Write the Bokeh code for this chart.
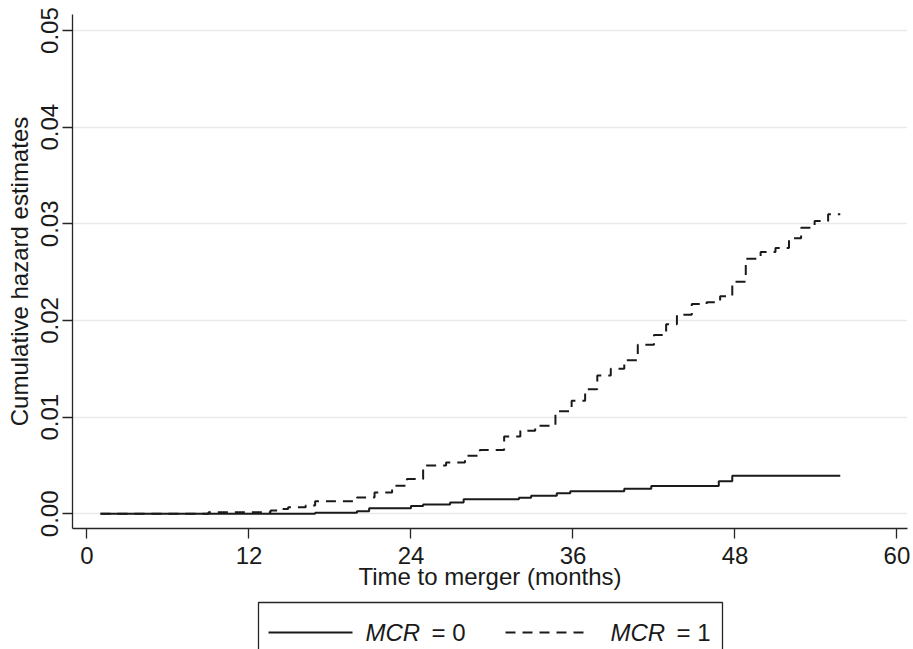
from bokeh.plotting import figure
from bokeh.models import FixedTicker, PrintfTickFormatter, Range1d
from bokeh.core.properties import value
from bokeh.layouts import column
from bokeh.embed import file_html
from bokeh.resources import INLINE

# --- data (months, cumulative hazard) ---
mcr0_time = [1, 16.9, 20.0, 20.9, 24.0, 24.9, 26.9, 27.9, 32.0, 32.9, 34.8, 35.8,
             39.8, 41.8, 46.8, 47.8, 55.8]
mcr0_hazard = [0.0, 0.0001, 0.00027, 0.00058, 0.0008, 0.00096, 0.00117, 0.0015,
               0.00166, 0.00186, 0.00213, 0.00234, 0.00258, 0.00289, 0.00336,
               0.00395, 0.00395]

mcr1_time = [1, 9.0, 13.6, 14.2, 14.9, 16.2, 16.9, 20.0, 21.3, 22.6, 23.7, 24.9,
             26.6, 28.0, 29.1, 30.9, 32.1, 33.2, 34.7, 35.9, 36.9, 37.8, 38.8,
             39.8, 40.8, 42.0, 42.9, 43.7, 44.8, 45.9, 46.9, 47.8, 48.8, 49.9,
             51.0, 52.0, 52.9, 53.9, 54.9, 55.8]
mcr1_hazard = [0.0, 0.00017, 0.00035, 0.0005, 0.00068, 0.00086, 0.0013, 0.0017,
               0.0022, 0.0029, 0.0036, 0.0050, 0.0053, 0.0060, 0.0066, 0.0080,
               0.0086, 0.0091, 0.0106, 0.0117, 0.0129, 0.0143, 0.0150, 0.0159,
               0.0175, 0.0185, 0.0196, 0.0206, 0.0217, 0.0219, 0.0225, 0.0240,
               0.0264, 0.0271, 0.0275, 0.0285, 0.0296, 0.0303, 0.0310, 0.0310]

x_ticks = [0, 12, 24, 36, 48, 60]
y_ticks = [0.0, 0.01, 0.02, 0.03, 0.04, 0.05]
legend_var = "MCR"
legend_values = ["= 0", "= 1"]
x_title = "Time to merger (months)"
y_title = "Cumulative hazard estimates"

FONT = "Liberation Sans"
INK = "#1a1a1a"
AXIS = "#262626"
DASH = "10 7"
BORDER_L, BORDER_R = 72, 6
W = 913

# ---------------- main plot ----------------
p = figure(width=W, height=600, output_backend="svg", toolbar_location=None,
           x_range=Range1d(-1.074, 60.78), y_range=Range1d(-0.00152, 0.05166),
           min_border_left=BORDER_L, min_border_right=BORDER_R, min_border_top=14,
           min_border_bottom=72, background_fill_color="white",
           border_fill_color="white")
p.outline_line_color = None

p.step(mcr0_time, mcr0_hazard, mode="after", line_color=INK, line_width=2)
p.step(mcr1_time, mcr1_hazard, mode="after", line_color=INK, line_width=2,
       line_dash=DASH)

p.xaxis.ticker = FixedTicker(ticks=x_ticks)
p.yaxis.ticker = FixedTicker(ticks=y_ticks)
p.yaxis.formatter = PrintfTickFormatter(format="%.2f")
p.yaxis.major_label_orientation = "vertical"
for ax in (p.xaxis[0], p.yaxis[0]):
    ax.axis_line_color = AXIS
    ax.axis_line_width = 1.3
    ax.major_tick_line_color = AXIS
    ax.major_tick_line_width = 1.3
    ax.major_tick_out = 10
    ax.major_tick_in = 0
    ax.minor_tick_line_color = None
    ax.major_label_text_font = FONT
    ax.major_label_text_font_size = "24px"
    ax.major_label_text_color = INK
    ax.axis_label_text_font = FONT
    ax.axis_label_text_font_size = "24px"
    ax.axis_label_text_font_style = "normal"
    ax.axis_label_text_color = INK
p.xaxis.major_label_standoff = 8
p.yaxis.major_label_standoff = 4
p.xaxis.axis_label_standoff = -4
p.yaxis.axis_label_standoff = 6
p.xaxis.axis_label = x_title
p.yaxis.axis_label = y_title

p.xgrid.grid_line_color = None
p.ygrid.ticker = FixedTicker(ticks=y_ticks)
p.ygrid.grid_line_color = "#e9e9e9"
p.ygrid.grid_line_width = 1.6

# ---------------- legend strip (box runs past the bottom edge) ----------------
# strip coordinates: x in page pixels, y in pixels up from the strip's bottom
H2 = 49
p2 = figure(width=W, height=H2, output_backend="svg", toolbar_location=None,
            x_range=Range1d(BORDER_L, W - BORDER_R), y_range=Range1d(0, H2),
            x_axis_location=None, y_axis_location=None,
            min_border_left=BORDER_L, min_border_right=BORDER_R,
            min_border_top=0, min_border_bottom=0,
            background_fill_color="white", border_fill_color="white")
p2.outline_line_color = None
p2.grid.visible = False

box_left, box_right, box_top = 258, 722, 47
row_y = 17
p2.line([box_left, box_left, box_right, box_right], [-10, box_top, box_top, -10],
        line_color=AXIS, line_width=1.3)
p2.line([268, 352], [row_y, row_y], line_color=INK, line_width=2)
p2.line([505, 589], [row_y, row_y], line_color=INK, line_width=2, line_dash=DASH)

p2.text(x=[365, 610], y=[row_y, row_y], text=[legend_var, legend_var],
        text_font=value(FONT), text_font_size="24px", text_font_style="italic",
        text_color=INK, text_baseline="middle", text_align="left")
p2.text(x=[431, 676], y=[row_y, row_y], text=legend_values,
        text_font=value(FONT), text_font_size="24px", text_font_style="normal",
        text_color=INK, text_baseline="middle", text_align="left")

open("out.html", "w").write(file_html(column(p, p2, spacing=0), INLINE))
